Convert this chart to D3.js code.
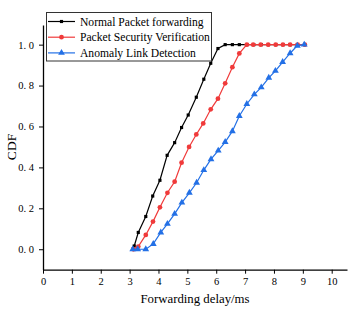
<!DOCTYPE html>
<html>
<head>
<meta charset="utf-8">
<script src="https://cdn.jsdelivr.net/npm/d3@7"></script>
<style>
  body { margin: 0; background: #fff; }
  text { font-family: "Liberation Serif", "Times New Roman", serif; }
</style>
</head>
<body>
<script>
// CDF of forwarding delay, three schemes
var seriesNames = ["Normal Packet forwarding", "Packet Security Verification", "Anomaly Link Detection"];

var normalX = [3.12, 3.16, 3.3, 3.56, 3.8, 4.05, 4.3, 4.56, 4.8, 5.03, 5.31, 5.57, 5.81, 6.06, 6.31, 6.56, 6.8, 7.06, 7.3, 7.56, 7.81, 8.06, 8.31, 8.56, 8.81, 9.06];
var normalY = [0, 0.016, 0.082, 0.16, 0.26, 0.337, 0.459, 0.521, 0.595, 0.656, 0.743, 0.831, 0.909, 0.981, 1, 1, 1, 1, 1, 1, 1, 1, 1, 1, 1, 1];

var securityX = [3.13, 3.3, 3.56, 3.81, 4.05, 4.31, 4.56, 4.8, 5.06, 5.31, 5.55, 5.81, 6.06, 6.31, 6.56, 6.8, 7.06, 7.28, 7.54, 7.8, 8.06, 8.31, 8.56, 8.82, 9.07];
var securityY = [0, 0.013, 0.07, 0.135, 0.205, 0.276, 0.33, 0.423, 0.5, 0.561, 0.615, 0.684, 0.736, 0.811, 0.89, 0.957, 1, 1, 1, 1, 1, 1, 1, 1, 1];

var anomalyX = [3.11, 3.28, 3.56, 3.82, 4.08, 4.31, 4.56, 4.81, 5.07, 5.32, 5.57, 5.82, 6.07, 6.31, 6.56, 6.8, 7.06, 7.32, 7.56, 7.82, 8.05, 8.3, 8.56, 8.81, 9.05];
var anomalyY = [0, 0, 0, 0.026, 0.082, 0.124, 0.173, 0.228, 0.276, 0.325, 0.387, 0.44, 0.482, 0.524, 0.577, 0.651, 0.71, 0.757, 0.791, 0.838, 0.872, 0.915, 0.958, 0.995, 1];

var xTicks = [0, 1, 2, 3, 4, 5, 6, 7, 8, 9, 10];
var yTicks = [0, 0.2, 0.4, 0.6, 0.8, 1.0];

var width = 364;
var height = 323;

var xScale = d3.scaleLinear()
        .domain([0, 10.53])
        .range([43, 347]);

var yScale = d3.scaleLinear()
        .domain([-0.1, 1.096])
        .range([269.7, 25]);

var svg = d3.select("body")
      .append("svg")
      .attr("width", width)
      .attr("height", height);

var xAxis = svg.append("g")
        .attr("transform", "translate(0," + yScale(-0.1) + ")")
        .call(d3.axisBottom(xScale).tickValues(xTicks).tickSize(4).tickPadding(4).tickSizeOuter(0).tickFormat(d3.format("d")));

var yAxis = svg.append("g")
        .attr("transform", "translate(" + xScale(0) + ",0)")
        .call(d3.axisLeft(yScale).tickValues(yTicks).tickSize(4).tickPadding(5).tickSizeOuter(0)
          .tickFormat(function(d) { return d3.format(".1f")(d).replace(".", ". "); }));

svg.selectAll(".domain").attr("stroke", "#000").attr("stroke-width", 1.3);
svg.selectAll(".tick line").attr("stroke", "#000");
svg.selectAll(".tick text")
  .style("font-family", "'Liberation Serif', serif")
  .style("font-size", "10.5px")
  .attr("fill", "#000");

var yLabel = svg.append("text")
        .attr("text-anchor", "middle")
        .attr("transform", "translate(15.5," + 147 + ")rotate(-90)")
        .text("CDF")
        .style("font-size", "13.5px");

var xLabel = svg.append("text")
        .attr("text-anchor", "middle")
        .attr("x", 195)
        .attr("y", 303)
        .text("Forwarding delay/ms")
        .style("font-size", "12.8px");

var series = [
  { name: seriesNames[0], xs: normalX, ys: normalY, color: "#000000", shape: d3.symbolSquare, size: 10 },
  { name: seriesNames[1], xs: securityX, ys: securityY, color: "#f03a3a", shape: d3.symbolCircle, size: 18 },
  { name: seriesNames[2], xs: anomalyX, ys: anomalyY, color: "#2370e6", shape: d3.symbolTriangle, size: 20 }
];

var valueline = d3.line()
        .x(function(d) { return xScale(d[0]); })
        .y(function(d) { return yScale(d[1]); });

series.forEach(function(s) {
  var pts = d3.zip(s.xs, s.ys);
  svg.append("path")
    .datum(pts)
    .attr("fill", "none")
    .attr("stroke", s.color)
    .attr("stroke-width", 1.2)
    .attr("d", valueline);
  svg.append("g").selectAll("path")
    .data(pts)
    .enter().append("path")
    .attr("transform", function(d) { return "translate(" + xScale(d[0]) + "," + yScale(d[1]) + ")"; })
    .attr("d", d3.symbol().type(s.shape).size(s.size))
    .attr("fill", s.color);
});

// legend
var legend = svg.append("g");
legend.append("rect")
  .attr("x", 46.5).attr("y", 12.5)
  .attr("width", 165).attr("height", 48.5)
  .attr("fill", "#fff")
  .attr("stroke", "#333")
  .attr("stroke-width", 1);

series.forEach(function(s, i) {
  var y = 21.5 + i * 15.7;
  legend.append("line")
    .attr("x1", 48).attr("x2", 75)
    .attr("y1", y).attr("y2", y)
    .attr("stroke", s.color)
    .attr("stroke-width", 1.2);
  legend.append("path")
    .attr("transform", "translate(61.5," + y + ")")
    .attr("d", d3.symbol().type(s.shape).size(s.size))
    .attr("fill", s.color);
  legend.append("text")
    .attr("x", 80)
    .attr("y", y + 4.2)
    .text(s.name)
    .style("font-size", "11.6px");
});
</script>
</body>
</html>
